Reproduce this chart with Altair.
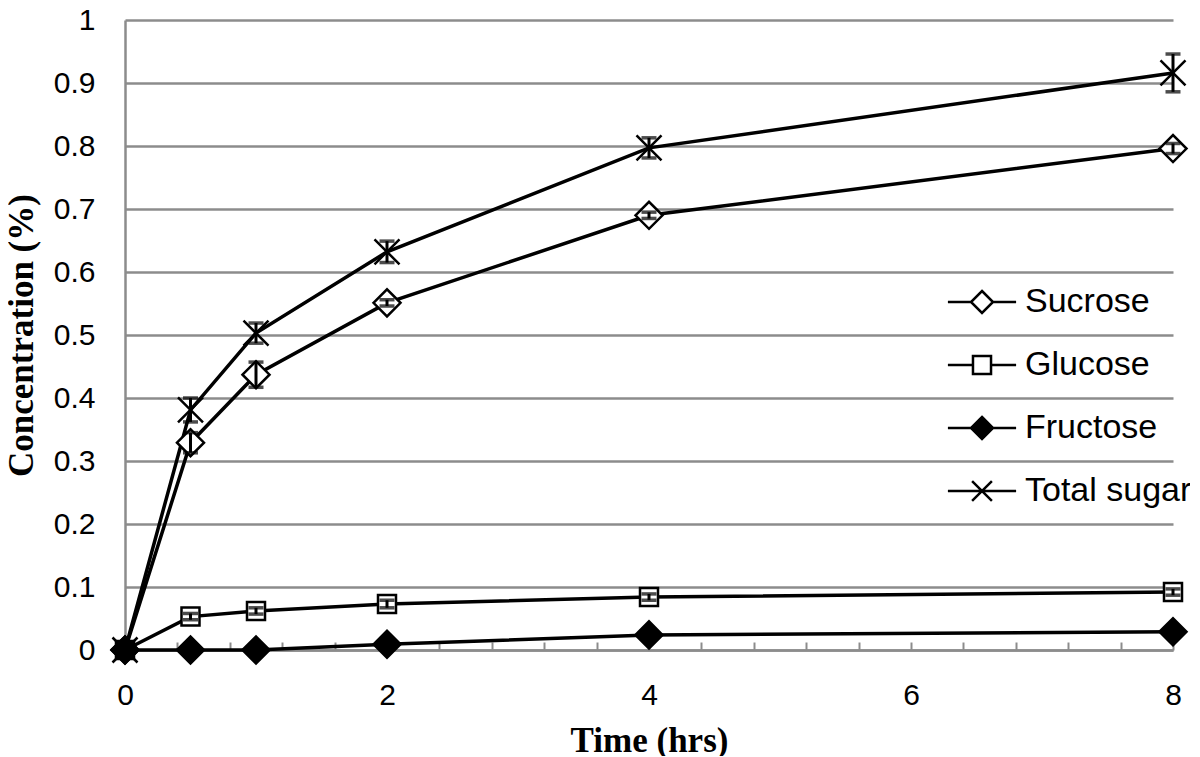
import altair as alt
import pandas as pd

# ---- data ----
time_hrs = [0, 0.5, 1, 2, 4, 8]
series_names = ["Sucrose", "Glucose", "Fructose", "Total sugar"]

sucrose = [0.0, 0.329, 0.437, 0.551, 0.690, 0.796]
sucrose_err = [0.0, 0.016, 0.020, 0.005, 0.005, 0.008]
glucose = [0.0, 0.053, 0.062, 0.073, 0.084, 0.092]
glucose_err = [0.0, 0.005, 0.005, 0.006, 0.005, 0.005]
fructose = [0.0, 0.0, 0.0, 0.009, 0.024, 0.029]
fructose_err = [0.0, 0.0, 0.0, 0.006, 0.003, 0.003]
total_sugar = [0.0, 0.381, 0.503, 0.632, 0.797, 0.916]
total_sugar_err = [0.0, 0.019, 0.016, 0.017, 0.016, 0.030]

y_tick_values = [0, 0.1, 0.2, 0.3, 0.4, 0.5, 0.6, 0.7, 0.8, 0.9, 1]
x_tick_values = [0, 0.4, 0.8, 1.2, 1.6, 2, 2.4, 2.8, 3.2, 3.6, 4,
                 4.4, 4.8, 5.2, 5.6, 6, 6.4, 6.8, 7.2, 7.6, 8]
x_label_values = [0, 2, 4, 6, 8]

values_by_series = {
    "Sucrose": (sucrose, sucrose_err),
    "Glucose": (glucose, glucose_err),
    "Fructose": (fructose, fructose_err),
    "Total sugar": (total_sugar, total_sugar_err),
}

rows = []
for name in series_names:
    vals, errs = values_by_series[name]
    for t, v, e in zip(time_hrs, vals, errs):
        rows.append({"series": name, "time": t, "value": v, "err": e,
                     "lo": v - e, "hi": v + e})
df = pd.DataFrame(rows)
df_err = df[df["err"] > 0]

GRID = "#8c8c8c"
SANS = "Liberation Sans"
SERIF = "Liberation Serif"

x_scale = alt.Scale(domain=[0, 8], nice=False, zero=False)
y_scale = alt.Scale(domain=[0, 1], nice=False)

label_test = " || ".join(f"datum.value == {v}" for v in x_label_values)
x_axis = alt.Axis(
    orient="bottom", values=x_tick_values, format="~g",
    labelExpr=f"({label_test}) ? datum.label : ''",
    ticks=True, tickSize={"expr": "-8"}, tickColor=GRID, tickWidth=2,
    grid=False, domain=True, domainColor=GRID, domainWidth=2.5,
    labelFont=SANS, labelFontSize=30, labelColor="black", labelPadding=38,
    labelFlush=False, labelOverlap=False, labelBound=False,
    title="Time (hrs)", titleFont=SERIF, titleFontWeight="bold",
    titleFontSize=35, titleColor="black", titleY=90, titleBaseline="middle",
)
y_axis = alt.Axis(
    values=y_tick_values, format="~g", ticks=False, tickSize=0, grid=True,
    gridColor=GRID, gridWidth=2.5, domain=True, domainColor=GRID,
    domainWidth=2.5, labelFont=SANS, labelFontSize=30, labelColor="black",
    labelPadding=30, labelFlush=False, labelOverlap=False,
    title="Concentration (%)", titleFont=SERIF, titleFontWeight="bold",
    titleFontSize=35, titleColor="black", titleAngle=270,
    titleX=-104, titleY=315, titleAlign="center", titleBaseline="middle",
)


def X():
    return alt.X("time:Q", scale=x_scale, axis=x_axis)


def Y(field):
    return alt.Y(f"{field}:Q", scale=y_scale, axis=y_axis)


base = alt.Chart(df)

lines = base.mark_line(color="black", strokeWidth=3.5).encode(
    x=X(), y=Y("value"), detail="series:N", order="time:Q",
)

x_path = "M-1,-1L1,1M-1,1L1,-1"
marker_shapes = ["diamond", "square", "diamond", x_path]
marker_fills = ["white", "white", "black", "white"]
marker_sizes = [729, 324, 729, 625]

point_layers = []
for name, shp, fll, sz in zip(series_names, marker_shapes, marker_fills, marker_sizes):
    point_layers.append(
        base.transform_filter(alt.datum.series == name).mark_point(
            shape=shp, fill=fll, stroke="black", strokeWidth=2.5,
            size=sz, opacity=1, fillOpacity=1,
        ).encode(x=X(), y=Y("value"))
    )

err_base = alt.Chart(df_err)
err_rules = err_base.mark_rule(color="black", strokeWidth=3).encode(
    x=X(), y=Y("lo"), y2="hi:Q",
)
caps_lo = err_base.mark_tick(
    color="black", thickness=3.5, size=15, orient="horizontal").encode(
    x=X(), y=Y("lo"),
)
caps_hi = err_base.mark_tick(
    color="black", thickness=3.5, size=15, orient="horizontal").encode(
    x=X(), y=Y("hi"),
)

# legend symbols: marker with a line through it
legend_paths = [
    "M-3.1,0L-1,0M1,0L3.1,0M0,-1L1,0L0,1L-1,0Z",
    "M-3.1,0L-0.82,0M0.82,0L3.1,0M-0.82,-0.82L0.82,-0.82L0.82,0.82L-0.82,0.82Z",
    "M-3.1,0L-1,0M1,0L3.1,0M0,-1L1,0L0,1L-1,0Z",
    "M-3.1,0L3.1,0M-0.9,-0.9L0.9,0.9M-0.9,0.9L0.9,-0.9",
]
leg = alt.Legend(
    title=None, orient="none", legendX=840, legendY=265, padding=0,
    symbolSize=484, symbolStrokeWidth=2.5, symbolOpacity=1,
    labelFont=SANS, labelFontSize=34, labelColor="black",
    labelOffset=26, rowPadding=29, labelLimit=400,
)
# invisible (size 0) points whose shape/fill scales provide the legend
legend_layer = base.mark_point(stroke="black", strokeWidth=2.5, size=0,
                               opacity=1).encode(
    x=X(), y=Y("value"),
    shape=alt.Shape("series:N", scale=alt.Scale(
        domain=series_names, range=legend_paths), legend=leg),
    fill=alt.Fill("series:N", scale=alt.Scale(
        domain=series_names, range=marker_fills), legend=leg),
)

chart = alt.layer(
    lines, *point_layers, err_rules, caps_lo, caps_hi, legend_layer
).properties(
    width=1048, height=630,
    padding={"left": 117, "top": 12, "right": 17, "bottom": 106},
    autosize=alt.AutoSizeParams(type="none"),
    background="white",
).configure_view(strokeWidth=0)

chart.save("out.html", embed_options={"renderer": "svg", "actions": False})
